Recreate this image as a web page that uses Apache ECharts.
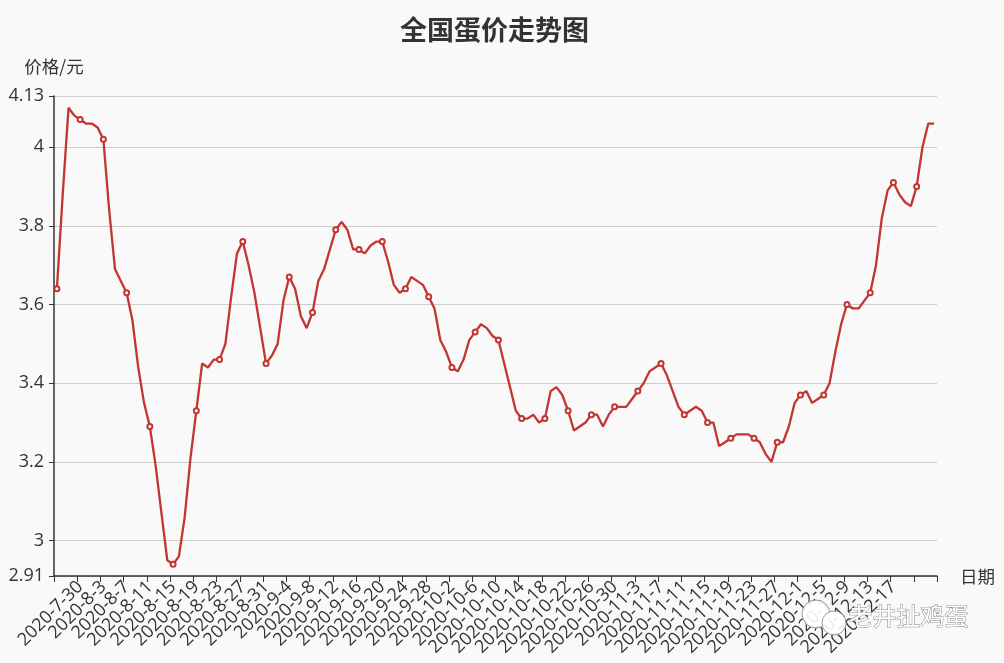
<!DOCTYPE html>
<html>
<head>
<meta charset="utf-8">
<script src="https://cdn.jsdelivr.net/npm/echarts@6/dist/echarts.min.js"></script>
<style>
html,body{margin:0;padding:0;background:#f9f9f9;}
#chart{width:1004px;height:663px;}
</style>
</head>
<body>
<div id="chart"></div>
<script>
// Dates: daily from 2020-7-26 to 2020-12-24 (152 days)
const startDate = [2020, 7, 26];
const dayCount = 152;
const categories = [];
(function () {
  const d = new Date(startDate[0], startDate[1] - 1, startDate[2]);
  for (let i = 0; i < dayCount; i++) {
    categories.push(d.getFullYear() + '-' + (d.getMonth() + 1) + '-' + d.getDate());
    d.setDate(d.getDate() + 1);
  }
})();

const prices = [
  3.64, 3.88, 4.10, 4.08, 4.07, 4.06, 4.06, 4.05, 4.02, 3.84,
  3.69, 3.66, 3.63, 3.56, 3.44, 3.35, 3.29, 3.19, 3.07, 2.95,
  2.94, 2.96, 3.06, 3.21, 3.33, 3.45, 3.44, 3.46, 3.46, 3.50,
  3.62, 3.73, 3.76, 3.70, 3.63, 3.54, 3.45, 3.47, 3.50, 3.61,
  3.67, 3.64, 3.57, 3.54, 3.58, 3.66, 3.69, 3.74, 3.79, 3.81,
  3.79, 3.74, 3.74, 3.73, 3.75, 3.76, 3.76, 3.71, 3.65, 3.63,
  3.64, 3.67, 3.66, 3.65, 3.62, 3.59, 3.51, 3.48, 3.44, 3.43,
  3.46, 3.51, 3.53, 3.55, 3.54, 3.52, 3.51, 3.45, 3.39, 3.33,
  3.31, 3.31, 3.32, 3.30, 3.31, 3.38, 3.39, 3.37, 3.33, 3.28,
  3.29, 3.30, 3.32, 3.32, 3.29, 3.32, 3.34, 3.34, 3.34, 3.36,
  3.38, 3.40, 3.43, 3.44, 3.45, 3.42, 3.38, 3.34, 3.32, 3.33,
  3.34, 3.33, 3.30, 3.30, 3.24, 3.25, 3.26, 3.27, 3.27, 3.27,
  3.26, 3.25, 3.22, 3.20, 3.25, 3.25, 3.29, 3.35, 3.37, 3.38,
  3.35, 3.36, 3.37, 3.40, 3.48, 3.55, 3.60, 3.59, 3.59, 3.61,
  3.63, 3.70, 3.82, 3.89, 3.91, 3.88, 3.86, 3.85, 3.90, 4.00,
  4.06, 4.06
];

const yMin = 2.91;
const yMax = 4.13;
const titleText = '全国蛋价走势图';
const yName = '价格/元';
const xName = '日期';
const watermarkText = '老井扯鸡蛋';

const font = '"Open Sans", "Noto Sans CJK SC", sans-serif';
const chart = echarts.init(document.getElementById('chart'));
chart.setOption({
  backgroundColor: '#f9f9f9',
  animation: false,
  title: {
    text: titleText,
    left: 395,
    top: 11,
    textStyle: { fontSize: 27, fontWeight: 'bold', color: '#333', fontFamily: '"Noto Sans CJK SC", sans-serif' }
  },
  grid: { left: 54, right: 67, top: 96, bottom: 87, containLabel: false },
  xAxis: {
    type: 'category',
    data: categories,
    boundaryGap: true,
    name: xName,
    nameGap: 23,
    nameTextStyle: { fontSize: 17.5, color: '#333', fontFamily: '"Noto Sans CJK SC", sans-serif' },
    axisLine: { show: true, lineStyle: { color: '#333', width: 1.5 } },
    axisTick: { show: true, interval: 3, length: 6, lineStyle: { color: '#333' } },
    axisLabel: {
      interval: 3, rotate: 45, fontSize: 18, color: '#333', margin: 8,
      fontFamily: font, showMinLabel: false, showMaxLabel: false
    },
    splitLine: { show: false }
  },
  yAxis: {
    type: 'value',
    min: yMin,
    max: yMax,
    name: yName,
    nameGap: 21,
    nameTextStyle: { fontSize: 17.5, color: '#333', fontFamily: '"Noto Sans CJK SC", sans-serif' },
    axisLine: { show: true, lineStyle: { color: '#333', width: 1.5 } },
    axisTick: { show: true, length: 5, lineStyle: { color: '#333' } },
    axisLabel: { fontSize: 18, color: '#333', margin: 10, fontFamily: font },
    splitLine: { show: true, lineStyle: { color: '#cccccc', width: 1.2 } }
  },
  series: [{
    type: 'line',
    data: prices,
    symbol: 'emptyCircle',
    symbolSize: 5,
    showSymbol: true,
    lineStyle: { color: '#c23531', width: 2.3 },
    itemStyle: { color: '#c23531', borderWidth: 1.5 }
  }],
  graphic: [
    { type: 'circle', shape: { cx: 816, cy: 614, r: 14 }, style: { fill: 'rgba(255,255,255,0.9)', stroke: '#999', lineWidth: 1 }, z: 100 },
    { type: 'circle', shape: { cx: 834, cy: 623, r: 12 }, style: { fill: 'rgba(255,255,255,0.9)', stroke: '#999', lineWidth: 1 }, z: 101 },
    {
      type: 'text', left: 848, top: 603, z: 102,
      style: { text: watermarkText, font: '24px "Noto Sans CJK SC", sans-serif', fill: '#ffffff', stroke: '#888', lineWidth: 1 }
    }
  ]
});
</script>
</body>
</html>
